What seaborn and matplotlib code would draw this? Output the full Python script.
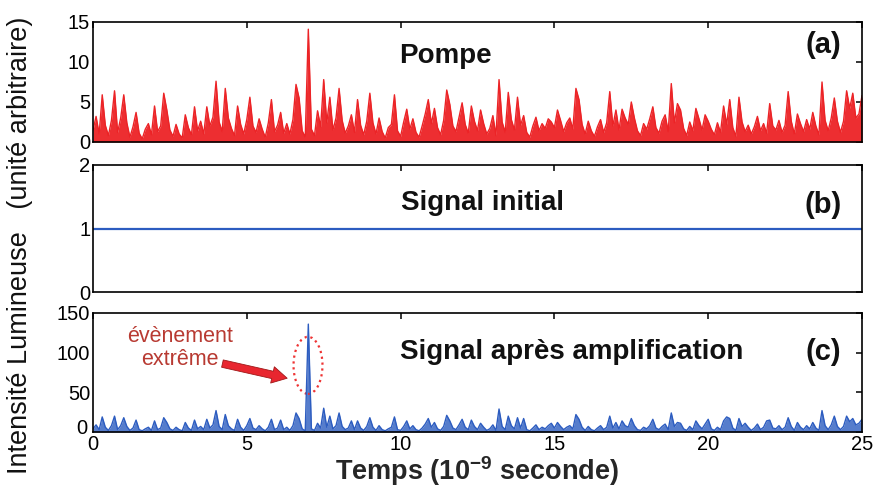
import numpy as np
import matplotlib
matplotlib.use("Agg")
import matplotlib.pyplot as plt
import matplotlib.transforms as mtransforms
from matplotlib.patches import Ellipse
import seaborn as sns

# ============================================================================
# DATA (0.1 ns grid from 0 to 25 ns)
# ============================================================================
temps = np.round(np.arange(251) * 0.1, 1)

pompe = [
    1.5, 3.2, 1.0, 5.9, 2.1, 0.8, 2.7, 6.4, 1.2, 3.0, 5.9,
    2.4, 0.6, 1.9, 3.7, 1.1, 0.4, 1.6, 2.3, 0.9, 4.5,
    1.3, 2.0, 6.1, 4.0, 1.5, 0.7, 2.2, 1.0, 0.5, 3.4,
    1.8, 0.9, 4.4, 1.4, 2.6, 1.0, 4.4, 2.0, 3.1, 7.6,
    2.5, 1.3, 6.7, 3.0, 1.7, 0.8, 4.5, 2.2, 1.0, 2.8,
    5.6, 2.0, 1.2, 2.9, 1.6, 0.6, 2.4, 5.3, 1.3, 2.1,
    3.7, 1.1, 2.3, 1.0, 2.8, 7.2, 5.5, 1.4, 0.6, 14.1,
    1.6, 0.8, 3.9, 1.9, 7.8, 2.4, 5.6, 1.5, 3.0, 6.7,
    2.7, 1.1, 2.0, 3.4, 1.2, 5.3, 2.1, 0.9, 2.6, 6.1,
    2.4, 1.0, 3.0, 1.3, 0.5, 1.8, 2.2, 5.9, 1.4, 0.7,
    2.5, 4.1, 1.6, 2.9, 1.2, 0.6, 2.0, 3.5, 5.3, 2.3,
    4.2, 1.8, 0.9, 2.7, 6.5, 4.7, 2.0, 1.3, 3.1, 4.9,
    2.2, 1.1, 4.5, 2.6, 1.4, 4.0, 2.3, 1.0, 1.7, 3.3,
    0.8, 7.8, 2.5, 1.2, 6.2, 2.8, 1.5, 5.6, 2.1, 3.3,
    1.2, 0.6, 2.0, 3.1, 1.4, 2.3, 1.7, 2.9, 2.5, 1.8,
    4.0, 2.7, 1.3, 2.4, 3.0, 1.6, 6.7, 5.3, 2.2, 1.0,
    2.6, 1.4, 0.7, 1.9, 2.8, 1.2, 2.4, 6.3, 2.0, 4.0,
    1.5, 4.1, 3.0, 2.2, 5.0, 3.0, 1.4, 0.8, 2.3, 1.6,
    2.9, 4.4, 1.8, 1.1, 2.6, 3.4, 1.3, 7.3, 2.4, 4.8,
    4.0, 1.7, 0.8, 2.5, 1.4, 4.2, 2.9, 1.5, 3.4, 2.6,
    1.6, 0.9, 2.4, 1.2, 4.5, 2.2, 5.3, 1.8, 0.7, 5.6,
    2.5, 1.3, 2.1, 1.0, 1.9, 3.2, 1.4, 2.3, 1.1, 4.8,
    2.0, 1.5, 2.7, 1.2, 2.1, 6.3, 2.6, 1.0, 3.5, 2.3,
    1.3, 2.8, 1.6, 3.7, 2.0, 0.9, 7.5, 2.7, 1.4, 3.0,
    5.5, 2.6, 1.2, 2.6, 6.4, 4.2, 6.1, 3.0, 3.5, 5.8,
]

apres_amplification = [
    4, 9, 3, 19, 6, 2, 8, 20, 3, 8, 18,
    7, 2, 5, 15, 3, 1.5, 4, 6, 2, 14,
    3, 5, 18, 12, 4, 2, 6, 3, 1.5, 12,
    5, 2, 15, 4, 7, 3, 16, 5, 9, 27,
    7, 3, 22, 8, 4, 2, 16, 6, 2, 8,
    17, 5, 3, 8, 4, 1.5, 6, 16, 3, 5,
    15, 3, 6, 2, 8, 24, 17, 4, 1.5, 136,
    4, 2, 11, 5, 30, 6, 20, 4, 8, 24,
    7, 3, 5, 14, 3, 14, 5, 2, 7, 18,
    6, 2, 8, 3, 1.5, 4, 6, 19, 3, 2,
    7, 14, 4, 8, 3, 1.5, 5, 10, 17, 6,
    12, 4, 2, 7, 21, 14, 5, 3, 9, 16,
    6, 3, 15, 7, 3, 11, 6, 2, 4, 9,
    2, 29, 7, 3, 20, 8, 4, 18, 5, 17,
    3, 1.5, 5, 9, 3, 6, 4, 8, 11, 5,
    12, 7, 3, 6, 8, 4, 22, 16, 6, 2,
    7, 3, 1.5, 5, 8, 3, 6, 20, 5, 12,
    4, 14, 8, 6, 17, 8, 3, 2, 6, 4,
    8, 16, 5, 3, 7, 10, 3, 24, 7, 12,
    11, 4, 2, 7, 3, 14, 8, 4, 10, 16,
    4, 2, 6, 3, 14, 19, 17, 5, 2, 17,
    7, 11, 6, 2, 5, 10, 3, 6, 14, 15,
    5, 4, 8, 3, 6, 18, 7, 2, 12, 6,
    3, 8, 4, 12, 5, 2, 27, 8, 3, 9,
    20, 7, 3, 7, 20, 13, 17, 9, 11, 16,
]

temps_initial = [0, 25]
signal_initial = [1, 1]

titres = ["Pompe", "Signal initial", "Signal après amplification"]
lettres = ["(a)", "(b)", "(c)"]
ylims = [15, 2, 150]
yticks = [[0, 5, 10, 15], [0, 1, 2], [0, 50, 100, 150]]
xticks = [0, 5, 10, 15, 20, 25]

ROUGE = "#ec2326"
BLEU = "#2c5cc0"

# ============================================================================
# STYLE
# ============================================================================
sns.set_theme(style="white")
plt.rcParams["font.family"] = ["Liberation Sans", "DejaVu Sans"]
plt.rcParams["mathtext.fontset"] = "custom"
plt.rcParams["mathtext.rm"] = "Liberation Sans"
plt.rcParams["mathtext.bf"] = "Liberation Sans:bold"

fig = plt.figure(figsize=(8.76, 4.91), dpi=100)
x0, w = 93 / 876, 769 / 876
axes = [
    fig.add_axes([x0, 1 - 142 / 491, w, 120 / 491]),
    fig.add_axes([x0, 1 - 292 / 491, w, 127 / 491]),
    fig.add_axes([x0, 1 - 432 / 491, w, 119 / 491]),
]

# (a) pump: dense spiky trace
sns.lineplot(x=temps, y=pompe, ax=axes[0], color=ROUGE, linewidth=1.0, estimator=None)
axes[0].fill_between(temps, pompe, color=ROUGE, alpha=0.95, linewidth=0)

# (b) flat initial signal
sns.lineplot(x=temps_initial, y=signal_initial, ax=axes[1], color=BLEU, linewidth=1.6, estimator=None)

# (c) amplified signal
sns.lineplot(x=temps, y=apres_amplification, ax=axes[2], color=BLEU, linewidth=1.0, estimator=None)
axes[2].fill_between(temps, apres_amplification, color=BLEU, alpha=0.8, linewidth=0)

titre_pos = [(0.458, 0.72), (0.506, 0.70), (0.623, 0.67)]
lettre_pos = [0.81, 0.685, 0.67]

for i, ax in enumerate(axes):
    ax.set_xlim(0, 25)
    ax.set_ylim(0, ylims[i])
    ax.set_xticks(xticks)
    ax.set_yticks(yticks[i])
    ax.tick_params(direction="in", length=4.5, width=1.1, top=True, right=True,
                   labelsize=14.5, pad=2, colors="black")
    if i < 2:
        ax.set_xticklabels([])
    for sp in ax.spines.values():
        sp.set_color("black")
        sp.set_linewidth(1.2)
        sp.set_zorder(5)
    ax.set_xlabel("")
    ax.set_ylabel("")
    ax.text(titre_pos[i][0], titre_pos[i][1], titres[i], transform=ax.transAxes,
            ha="center", va="center", fontsize=20, fontweight="bold", color="#111111")
    ax.text(0.95, lettre_pos[i], lettres[i], transform=ax.transAxes,
            ha="center", va="center", fontsize=21, fontweight="bold", color="#111111")

# lift the y "0" of panel (c) a little so it sits above the x "0"
fig.canvas.draw()
lbl0 = axes[2].get_yticklabels()[0]
lbl0.set_transform(lbl0.get_transform() + mtransforms.ScaledTranslation(-2 / 72, 4 / 72, fig.dpi_scale_trans))

axes[2].set_xlabel("Temps (10$^{\\mathbf{-9}}$ seconde)", fontsize=19.5,
                   fontweight="bold", labelpad=0)

fig.text(20 / 876, 0.5, "Intensité Lumineuse   (unité arbitraire)", rotation=90,
         ha="center", va="center", fontsize=19.5, color="#111111")

# annotation of the extreme event
ax = axes[2]
ax.add_patch(Ellipse((6.99, 84), 0.94, 72, fill=False, edgecolor="#ee3333",
                     linestyle=":", linewidth=1.6))
ax.annotate("", xy=(6.40, 67), xytext=(4.12, 87),
            arrowprops=dict(arrowstyle="simple,head_length=0.9,head_width=1.0,tail_width=0.45",
                            fc="#e8262f", ec="#a01818", lw=0.6))
ax.text(2.83, 106, "évènement\nextrême", ha="center", va="center", fontsize=15.5,
        color="#b83a32", linespacing=1.1)

plt.savefig("out.png", dpi=100)
